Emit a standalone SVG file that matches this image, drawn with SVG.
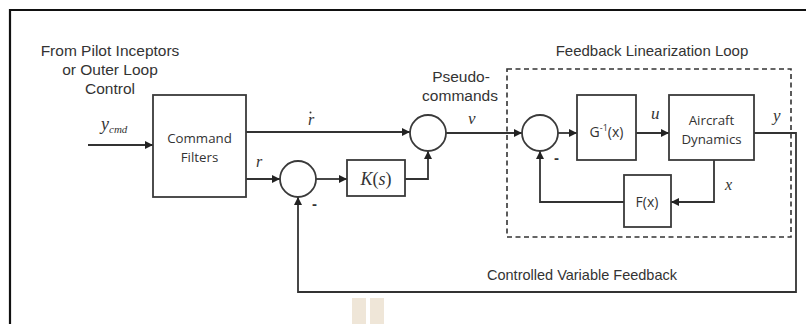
<svg xmlns="http://www.w3.org/2000/svg" width="806" height="324" viewBox="0 0 806 324">
<style>
.box{fill:#fff;stroke:#3a3a3a;stroke-width:1.8}
.ln{fill:none;stroke:#333;stroke-width:1.8}
.ar{fill:none;stroke:#333;stroke-width:1.8;marker-end:url(#ah)}
.sans{font-family:"Liberation Sans",Arial,sans-serif;fill:#333}
.cal{font-family:"Open Sans","Liberation Sans",sans-serif;fill:#333}
.math{font-family:"Liberation Serif","Times New Roman",serif;font-style:italic;fill:#333}
</style>
<defs>
<marker id="ah" viewBox="0 0 10 10" refX="10" refY="5" markerWidth="8" markerHeight="8" markerUnits="userSpaceOnUse" orient="auto">
<path d="M0,0 L10,5 L0,10 z" fill="#222"/>
</marker>
</defs>
<rect width="806" height="324" fill="#fff"/>
<g id="frame">
<path d="M10,324 L10,10 L806,10" fill="none" stroke="#111" stroke-width="2.2"/>
</g>
<g id="watermark">
<rect x="352" y="298" width="14" height="26" fill="#efe6d8"/>
<rect x="370" y="298" width="14" height="26" fill="#efe6d8"/>
</g>
<g id="fl-loop">
<rect x="507" y="69" width="284" height="168" fill="none" stroke="#333" stroke-width="1.6" stroke-dasharray="5,3.5"/>
<text class="sans" x="652" y="56" font-size="15" text-anchor="middle">Feedback Linearization Loop</text>
</g>
<g id="connectors">
<path class="ar" d="M88,145 L153,145"/>
<path class="ar" d="M246,132 L410,132"/>
<path class="ar" d="M246,179 L280,179"/>
<path class="ar" d="M316,179 L347,179"/>
<path class="ar" d="M405,179 L428,179 L428,151"/>
<path class="ar" d="M446,133 L522,133"/>
<path class="ar" d="M558,133 L577,133"/>
<path class="ar" d="M636,133 L669,133"/>
<path class="ar" d="M714,160 L714,202 L671,202"/>
<path class="ar" d="M624,202 L540,202 L540,151"/>
<path class="ar" d="M754,133 L796,133 L796,292 L298,292 L298,197"/>
</g>
<g id="labels">
<text class="sans" text-anchor="middle" font-size="15.5"><tspan x="110" y="56">From Pilot Inceptors</tspan><tspan x="110" y="75">or Outer Loop</tspan><tspan x="110" y="94">Control</tspan></text>
<text class="math" x="101" y="130" font-size="18">y<tspan font-size="11" dy="3">cmd</tspan></text>
<text class="math" x="308" y="125" font-size="16">r</text>
<circle cx="310.5" cy="112.5" r="1" fill="#333"/>
<text class="math" x="256" y="167" font-size="16">r</text>
<text class="sans" text-anchor="middle" font-size="15.5"><tspan x="461" y="82">Pseudo-</tspan><tspan x="460" y="101">commands</tspan></text>
<text class="math" x="468" y="124" font-size="17">ν</text>
<text class="math" x="651" y="119" font-size="17">u</text>
<text class="math" x="773" y="121" font-size="17">y</text>
<text class="math" x="725" y="190" font-size="16">x</text>
<text class="sans" x="312" y="209" font-size="15" font-weight="bold">-</text>
<text class="sans" x="554" y="163" font-size="15" font-weight="bold">-</text>
<text class="sans" x="582" y="280" font-size="14.5" text-anchor="middle">Controlled Variable Feedback</text>
</g>
<g id="command-filters">
<rect class="box" x="153" y="95" width="93" height="102"/>
<text class="cal" text-anchor="middle" font-size="13.3"><tspan x="199.5" y="143">Command</tspan><tspan x="199.5" y="162">Filters</tspan></text>
</g>
<g id="sum1">
<circle class="box" cx="428" cy="133" r="18"/>
</g>
<g id="sum2">
<circle class="box" cx="298" cy="179" r="18"/>
</g>
<g id="ks">
<rect class="box" x="347" y="160" width="58" height="36"/>
<text class="math" x="376" y="185" font-size="18" text-anchor="middle">K<tspan font-style="normal">(</tspan>s<tspan font-style="normal">)</tspan></text>
</g>
<g id="sum3">
<circle class="box" cx="540" cy="133" r="18"/>
</g>
<g id="ginv">
<rect class="box" x="577" y="95" width="59" height="65"/>
<text class="cal" x="606.5" y="137" font-size="14" text-anchor="middle">G<tspan font-size="9" dy="-6">-1</tspan><tspan dy="6">(x)</tspan></text>
</g>
<g id="aircraft">
<rect class="box" x="669" y="95" width="85" height="65"/>
<text class="cal" text-anchor="middle" font-size="13.3"><tspan x="711.5" y="125">Aircraft</tspan><tspan x="711.5" y="144">Dynamics</tspan></text>
</g>
<g id="fx">
<rect class="box" x="624" y="175" width="47" height="52"/>
<text class="cal" x="647" y="207" font-size="14" text-anchor="middle">F(x)</text>
</g>
</svg>
